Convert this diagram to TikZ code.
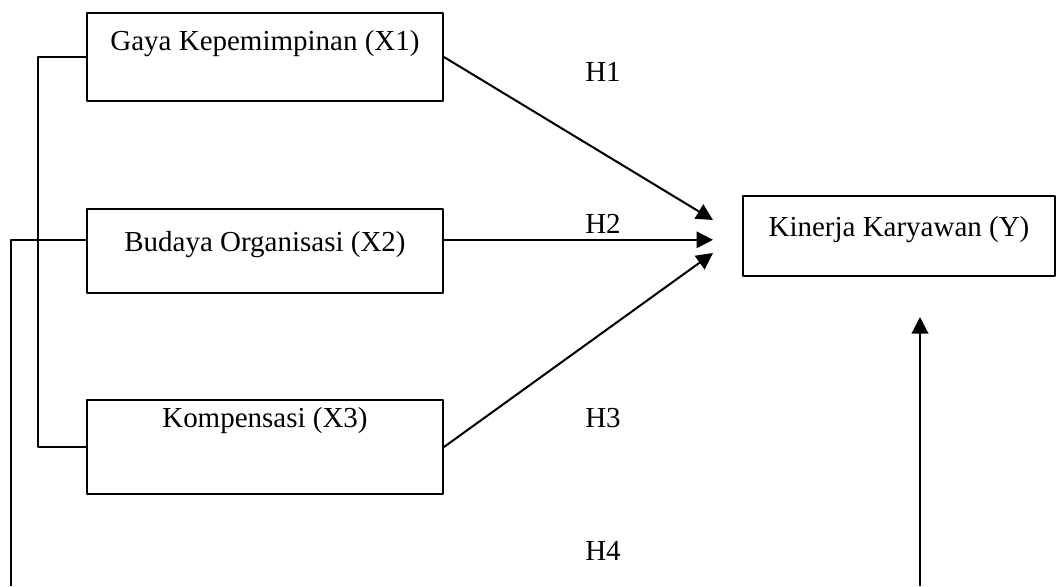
\documentclass[tikz,border=0pt]{standalone}
\usepackage{fontspec}
\setmainfont{Liberation Serif}
\usetikzlibrary{arrows.meta,calc,positioning}

\begin{document}
\begin{tikzpicture}[x=0.02cm, y=-0.02cm, line join=round, line width=1.15pt,
  kotak/.style={draw, rectangle, inner sep=0pt, anchor=north west, font=\fontsize{16.5}{20}\selectfont},
  panah/.style={-{Triangle[length=0.33cm,width=0.33cm]}},
  hlabel/.style={font=\fontsize{16.5}{20}\selectfont}]
\useasboundingbox (0,0) rectangle (1056,586);
% variabel
\node[kotak, minimum width=7.12cm, text height=0.75cm, text depth=1.01cm] (x1) at (86,12)  {Gaya Kepemimpinan (X1)};
\node[kotak, minimum width=7.12cm, text height=0.85cm, text depth=0.83cm] (x2) at (86,208) {Budaya Organisasi (X2)};
\node[kotak, minimum width=7.12cm, text height=0.55cm, text depth=1.33cm] (x3) at (86,399) {Kompensasi (X3)};
\node[kotak, minimum width=6.24cm, text height=0.81cm, text depth=0.79cm] (y)  at (742,195) {Kinerja Karyawan (Y)};
% titik bantu
\coordinate (t1) at (713,220);
\coordinate (t3) at (713,253);
\coordinate (t4) at (920,317);
\coordinate (x2kiri)  at ($(x2.north west)!0.37!(x2.south west)$);
\coordinate (x2kanan) at ($(x2.north east)!0.37!(x2.south east)$);
\coordinate (t2) at (x2kanan -| t1);
\coordinate (bawahkiri)  at (11,586);
\coordinate (bawahkanan) at (920,586);
% garis
\draw (x1.west) -- ++(-48,0) |- (x3.west);
\draw (x2kiri) -| (bawahkiri);
\draw[panah] (x1.east) -- (t1);
\draw[panah] (x2kanan) -- (t2);
\draw[panah] (x3.east) -- (t3);
\draw[panah] (bawahkanan) -- (t4);
% hipotesis
\node[hlabel] (h1) at (603,72)  {H1};
\node[hlabel] (h2) at (603,224) {H2};
\node[hlabel] (h3) at (603,418) {H3};
\node[hlabel] (h4) at (603,551) {H4};
\end{tikzpicture}
\end{document}
